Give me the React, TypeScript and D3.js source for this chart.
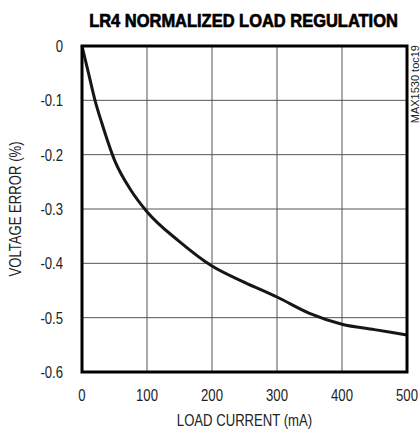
import { useEffect, useRef } from 'react'
import * as d3 from 'd3'

const LOAD_MA = [0, 10, 20, 30, 50, 75, 100, 150, 200, 250, 300, 350, 400, 450, 500]
const ERROR_PCT = [0, -0.05, -0.1, -0.14, -0.21, -0.265, -0.305, -0.36, -0.405, -0.435, -0.462, -0.492, -0.512, -0.522, -0.532]
const X_TICKS = [0, 100, 200, 300, 400, 500]
const Y_TICKS = [0, -0.1, -0.2, -0.3, -0.4, -0.5, -0.6]

const W = 420
const H = 430
const M = { top: 46, right: 13, bottom: 58, left: 82 }
const FONT = '"Liberation Sans", Arial, sans-serif'
const NARROW = 0.82

export default function App() {
  const svgRef = useRef<SVGSVGElement>(null)

  useEffect(() => {
    const svg = d3.select(svgRef.current)
    svg.selectAll('*').remove()

    const iw = W - M.left - M.right
    const ih = H - M.top - M.bottom
    const x = d3.scaleLinear([0, 500], [0, iw])
    const y = d3.scaleLinear([-0.6, 0], [ih, 0])

    svg.append('rect').attr('width', W).attr('height', H).attr('fill', '#fff')

    const g = svg.append('g').attr('transform', `translate(${M.left},${M.top})`)

    // narrow text helper (condensed look)
    const label = (
      parent: d3.Selection<any, unknown, null, undefined>,
      tx: number, ty: number, txt: string,
      anchor: string, size: number, rot = 0, sx = NARROW
    ) =>
      parent.append('text')
        .attr('transform', `translate(${tx},${ty}) rotate(${rot}) scale(${sx},1)`)
        .attr('text-anchor', anchor)
        .attr('font-family', FONT).attr('font-size', size).attr('fill', '#222')
        .text(txt)

    // grid
    g.append('g')
      .selectAll('line')
      .data(X_TICKS.slice(1, -1))
      .join('line')
      .attr('x1', d => x(d)).attr('x2', d => x(d))
      .attr('y1', 0).attr('y2', ih)
      .attr('stroke', '#555').attr('stroke-width', 1)
    g.append('g')
      .selectAll('line')
      .data(Y_TICKS.slice(1, -1))
      .join('line')
      .attr('x1', 0).attr('x2', iw)
      .attr('y1', d => y(d)).attr('y2', d => y(d))
      .attr('stroke', '#555').attr('stroke-width', 1)

    // curve
    const pts = LOAD_MA.map((v, i) => [v, ERROR_PCT[i]] as [number, number])
    g.append('path')
      .datum(pts)
      .attr('d', d3.line<[number, number]>().x(d => x(d[0])).y(d => y(d[1])).curve(d3.curveMonotoneX))
      .attr('fill', 'none').attr('stroke', '#1a1416').attr('stroke-width', 3)

    // frame
    g.append('rect')
      .attr('width', iw).attr('height', ih)
      .attr('fill', 'none').attr('stroke', '#000').attr('stroke-width', 3)

    // tick labels
    X_TICKS.forEach(d => label(g, x(d), ih + 29, String(d), 'middle', 16))
    Y_TICKS.forEach(d => label(g, -19, y(d) + 6, d === 0 ? '0' : d.toFixed(1), 'end', 16))

    // axis titles
    label(g, iw / 2, ih + 54, 'LOAD CURRENT (mA)', 'middle', 16)
    label(g, -61, ih / 2, 'VOLTAGE ERROR (%)', 'middle', 16, -90)

    // title – heavy condensed, squeezed to the reference width
    const title = svg.append('text')
      .attr('text-anchor', 'middle')
      .attr('font-family', FONT).attr('font-size', 19).attr('font-weight', 'bold')
      .attr('fill', '#000').attr('stroke', '#000').attr('stroke-width', 0.7)
      .text('LR4 NORMALIZED LOAD REGULATION')
    const tw = (title.node() as SVGTextElement).getComputedTextLength() || 386
    title.attr('transform', `translate(243.5,27) scale(${309 / tw},1)`)

    // side id
    label(svg, 419, M.top - 1, 'MAX1530 toc19', 'end', 11, -90, 1)
  }, [])

  return (
    <svg
      ref={svgRef}
      width={W}
      height={H}
      style={{ position: 'absolute', left: 0, top: 0, display: 'block' }}
    />
  )
}
